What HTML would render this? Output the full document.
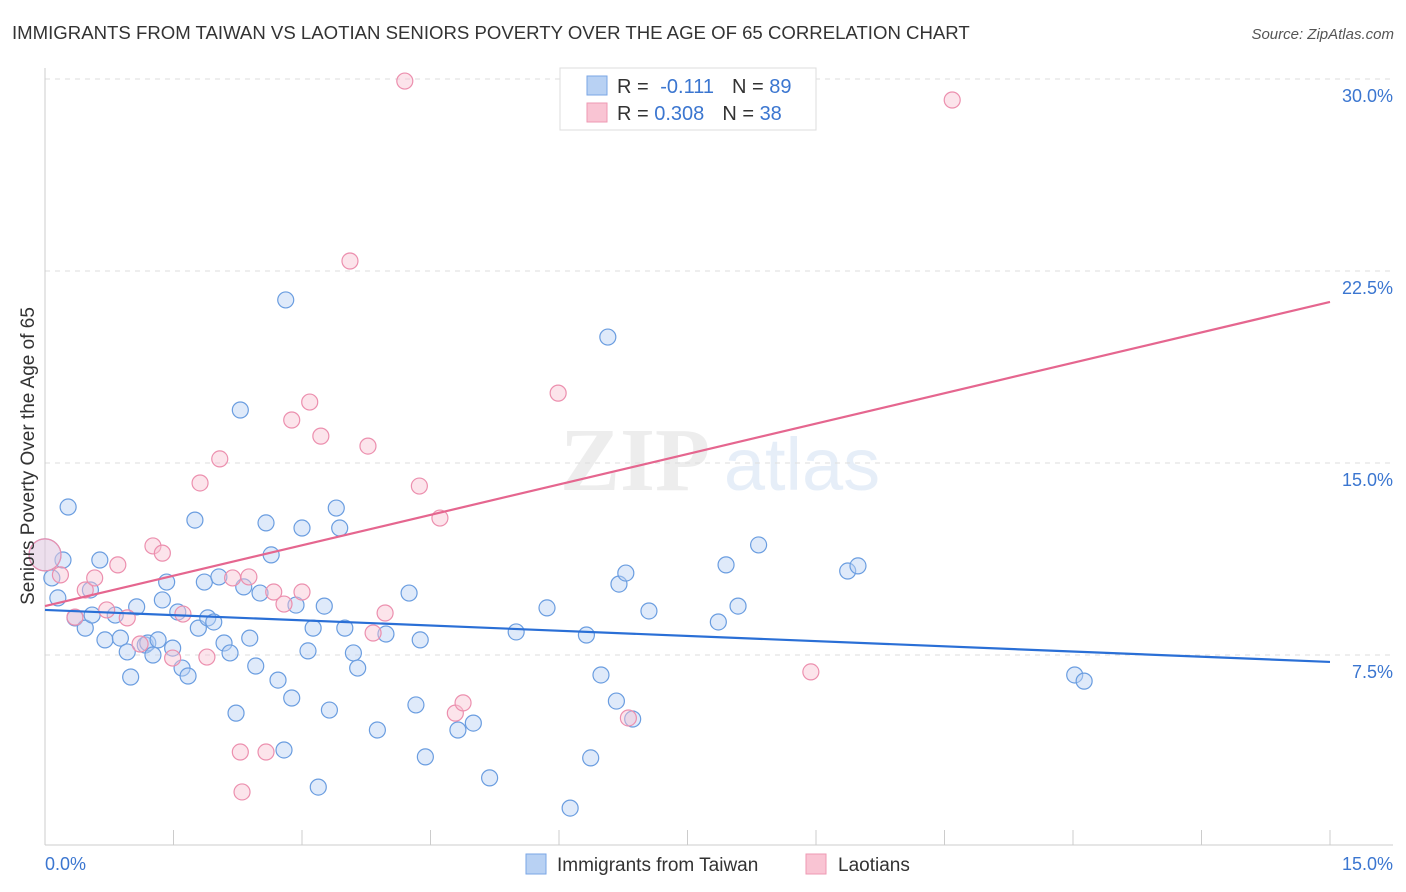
<!DOCTYPE html>
<html><head><meta charset="utf-8">
<style>
body{margin:0;background:#fff;font-family:"Liberation Sans",sans-serif;}
svg{display:block}
</style></head>
<body>
<svg id="chart" width="1406" height="892">
<text x="12" y="39" font-size="18.6" fill="#333">IMMIGRANTS FROM TAIWAN VS LAOTIAN SENIORS POVERTY OVER THE AGE OF 65 CORRELATION CHART</text>
<text x="1394" y="39" font-size="15" fill="#555" text-anchor="end" font-style="italic">Source: ZipAtlas.com</text>
<g opacity="0.5">
<text x="635" y="490" font-size="90" fill="#ddd" text-anchor="middle" font-family="Liberation Serif,serif" font-weight="bold">ZIP</text>
<text x="802" y="490" font-size="74" fill="#cfdff3" text-anchor="middle">atlas</text>
</g>
<g id="grid"></g>
<g id="axes"></g>
<g id="points"></g>
<g id="trends"></g>
<text transform="translate(34,456) rotate(-90)" font-size="19" fill="#333" text-anchor="middle">Seniors Poverty Over the Age of 65</text>
<g>
<rect x="560" y="68" width="256" height="62" fill="#fff" stroke="#ddd"/>
<rect x="587" y="76" width="20" height="19" fill="#b8d1f3" stroke="#7aa6e6"/>
<rect x="587" y="103" width="20" height="19" fill="#f9c4d3" stroke="#ee99b3"/>
<text x="617" y="93" font-size="20" fill="#333">R = <tspan fill="#3b76d0" dx="6">-0.111</tspan><tspan fill="#333" dx="18">N = </tspan><tspan fill="#3b76d0">89</tspan></text>
<text x="617" y="120" font-size="20" fill="#333">R = <tspan fill="#3b76d0">0.308</tspan><tspan fill="#333" dx="18">N = </tspan><tspan fill="#3b76d0">38</tspan></text>
</g>
<g>
<rect x="526" y="854" width="20" height="20" fill="#b8d1f3" stroke="#7aa6e6"/>
<text x="557" y="871" font-size="19" fill="#333">Immigrants from Taiwan</text>
<rect x="806" y="854" width="20" height="20" fill="#f9c4d3" stroke="#ee99b3"/>
<text x="838" y="871" font-size="19" fill="#333">Laotians</text>
</g>
</svg>
<script>
const xTicks=[0,15];
const xTickLabels=["0.0%","15.0%"];
const yTicks=[7.5,15,22.5,30];
const yTickLabels=["7.5%","15.0%","22.5%","30.0%"];
const blueX=[0.27,0.21,0.08,0.15,0.35,0.47,0.55,0.64,0.53,0.70,0.82,0.88,0.96,1.00,1.07,1.17,1.20,1.26,1.32,1.37,1.42,1.49,1.55,1.60,1.67,1.75,1.79,1.86,1.90,1.97,2.03,2.09,2.16,2.23,2.28,2.32,2.39,2.46,2.51,2.58,2.64,2.72,2.79,2.81,2.88,2.93,3.00,3.07,3.13,3.19,3.26,3.32,3.40,3.44,3.50,3.60,3.65,3.88,3.98,4.25,4.33,4.38,4.44,4.82,5.00,5.19,5.50,5.86,6.13,6.32,6.37,6.49,6.57,6.67,6.70,6.78,6.86,7.05,7.86,7.95,8.09,8.33,9.37,9.49,12.02,12.13,0.0];
const blueY=[13.28,11.21,10.51,9.73,8.95,8.55,9.06,11.21,10.04,8.09,9.06,8.16,7.62,6.64,9.38,7.89,7.97,7.50,8.09,9.65,10.35,7.77,9.18,6.99,6.68,12.77,8.55,10.35,8.95,8.79,10.55,7.97,7.58,5.23,17.07,10.16,8.16,7.07,9.92,12.66,11.41,6.52,3.79,21.37,5.82,9.45,12.46,7.66,8.55,2.34,9.41,5.35,13.24,12.46,8.55,7.58,6.99,4.57,8.32,9.92,5.55,8.09,3.52,4.57,4.84,2.70,8.40,9.34,1.52,8.28,3.48,6.72,19.92,5.70,10.27,10.70,5.00,9.22,8.79,11.02,9.41,11.80,10.78,10.98,6.72,6.48,11.41];
const pinkX=[0.0,0.18,0.35,0.47,0.58,0.72,0.85,0.96,1.11,1.26,1.37,1.49,1.61,1.81,1.89,2.04,2.19,2.38,2.28,2.30,2.58,2.67,2.79,2.88,3.00,3.09,3.22,3.56,3.77,3.83,3.97,4.20,4.37,4.61,4.79,4.88,5.99,6.81,8.94,10.59];
const pinkY=[11.41,10.63,8.98,10.04,10.51,9.26,11.02,8.95,7.93,11.76,11.48,7.38,9.10,14.22,7.42,15.16,10.51,10.55,3.71,2.15,3.71,9.96,9.49,16.68,9.96,17.38,16.05,22.89,15.66,8.36,9.14,29.92,14.10,12.85,5.23,5.63,17.73,5.04,6.84,29.18];
const blueTrend=[9.26,7.23];
const pinkTrend=[9.41,21.29];
const NS="http://www.w3.org/2000/svg";
const X0=45,X1=1330,Y0=847;
function sx(v){return X0+(X1-X0)*v/15;}
function sy(v){return Y0-v*192/7.5;}
function mk(tag,attrs,parent){const e=document.createElementNS(NS,tag);for(const k in attrs)e.setAttribute(k,attrs[k]);document.getElementById(parent).appendChild(e);return e;}
yTicks.forEach((t,i)=>{
 const l=mk('line',{x1:45,x2:1393,y1:sy(t),y2:sy(t),stroke:'#ddd','stroke-dasharray':'5,5'},'grid');
 
 
 const tx=mk('text',{x:1393,y:sy(t)+23,'font-size':18,fill:'#3b76d0','text-anchor':'end'},'axes');
 tx.textContent=yTickLabels[i];
 
 
});
const ax=mk('line',{x1:45,x2:45,y1:68,y2:845,stroke:'#ccc'},'axes');


const bx=mk('line',{x1:45,x2:1393,y1:845,y2:845,stroke:'#ccc'},'axes');


for(let i=0;i<=10;i++){
 const tk=mk('line',{x1:sx(i*1.5),x2:sx(i*1.5),y1:830,y2:845,stroke:'#ccc'},'axes');
 
 
}
xTicks.forEach((t,i)=>{
 const tx=mk('text',{x:i==0?45:1393,y:870,'font-size':18,fill:'#3b76d0','text-anchor':i==0?'start':'end'},'axes');
 tx.textContent=xTickLabels[i];
 
 
});
function pts(xs,ys,fill,stroke,name){
 xs.forEach((x,i)=>{
  const big=(x===0);
  const c=mk('circle',{cx:sx(x),cy:sy(ys[i]),r:big?16:8,fill:fill,'fill-opacity':big?0.35:0.45,stroke:stroke,'stroke-width':1.2},'points');
  
  
 });
}
pts(blueX,blueY,'#b8d1f3','#6a9de0','point-taiwan');
pts(pinkX,pinkY,'#f9c4d3','#ec8fae','point-laotians');
const bl=mk('line',{x1:sx(0),y1:sy(blueTrend[0]),x2:sx(15),y2:sy(blueTrend[1]),stroke:'#2a6fd6','stroke-width':2.2},'trends');


const pl=mk('line',{x1:sx(0),y1:sy(pinkTrend[0]),x2:sx(15),y2:sy(pinkTrend[1]),stroke:'#e5668f','stroke-width':2.2},'trends');


</script>
</body></html>
